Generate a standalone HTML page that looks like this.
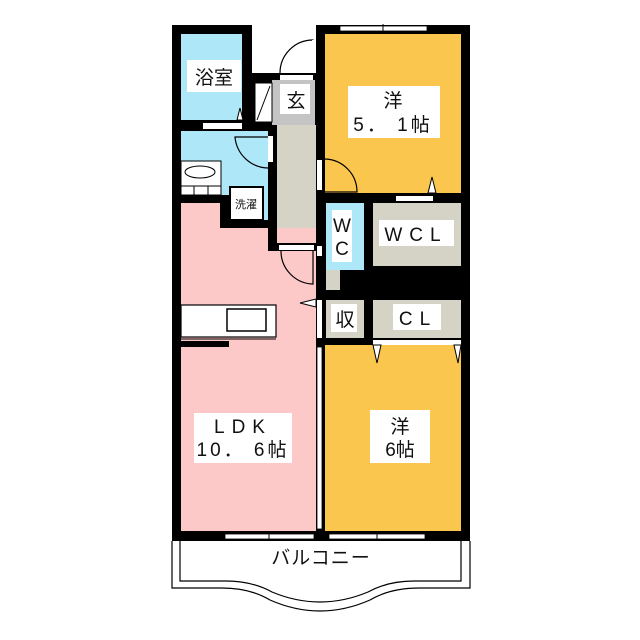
<!DOCTYPE html>
<html><head><meta charset="utf-8"><style>
html,body{margin:0;padding:0;background:#fff;width:640px;height:640px;overflow:hidden}
svg{display:block}
text{font-family:"Liberation Sans","Noto Sans CJK JP",sans-serif;fill:#111}
</style></head><body>
<svg width="640" height="640" viewBox="0 0 640 640" xmlns="http://www.w3.org/2000/svg">
<!-- black base walls -->
<rect x="172" y="25" width="80" height="516" fill="#000"/>
<rect x="252" y="73" width="70" height="180" fill="#000"/>
<rect x="316" y="25" width="154" height="516" fill="#000"/>
<rect x="172" y="195" width="150" height="346" fill="#000"/>
<!-- bathroom -->
<rect x="181" y="34" width="61" height="86" fill="#aee8f8"/>
<rect x="187" y="60" width="54" height="32" fill="#fff"/>
<text x="214" y="84" font-size="19" text-anchor="middle">浴室</text>
<rect x="203" y="123" width="39" height="6" fill="#fff"/>
<path d="M237 120 L240 108 L243 120Z" fill="#fff" stroke="#000" stroke-width="1"/>
<!-- genkan -->
<rect x="272" y="80" width="43" height="45" fill="#c4c4c4"/>
<rect x="255" y="83" width="17" height="39" fill="#fff" stroke="#000" stroke-width="1"/>
<line x1="257" y1="120" x2="270" y2="86" stroke="#000" stroke-width="1"/>
<rect x="280" y="84" width="30" height="30" fill="#fff"/>
<text x="296" y="107" font-size="19" text-anchor="middle">玄</text>
<rect x="280" y="75" width="33" height="5" fill="#fff"/>
<path d="M280 73 A33 33 0 0 1 313 40 L313 73" fill="none" stroke="#000" stroke-width="1.2"/>
<rect x="312" y="40" width="2" height="33" fill="#fff"/>
<!-- corridor -->
<rect x="277" y="125" width="39" height="118" fill="#d5d2c6"/>
<rect x="279" y="245" width="35" height="5" fill="#fff"/>
<!-- washroom -->
<rect x="181" y="131" width="87" height="64" fill="#aee8f8"/>
<rect x="220" y="190" width="48" height="30" fill="#aee8f8"/>
<rect x="220" y="195" width="10" height="33" fill="#000"/>
<rect x="220" y="220" width="57" height="8" fill="#000"/>
<rect x="181" y="195" width="40" height="8" fill="#000"/>
<rect x="181" y="161" width="40" height="34" fill="#fff" stroke="#000" stroke-width="1"/>
<ellipse cx="200" cy="172" rx="15" ry="6" fill="#fff" stroke="#000" stroke-width="1"/>
<line x1="181" y1="186" x2="221" y2="186" stroke="#000"/>
<line x1="194" y1="186" x2="194" y2="195" stroke="#000"/>
<line x1="208" y1="186" x2="208" y2="195" stroke="#000"/>
<rect x="230" y="187" width="33" height="33" fill="#fff" stroke="#000" stroke-width="2"/>
<text x="246" y="208" font-size="11" text-anchor="middle">洗濯</text>
<rect x="268" y="136" width="5" height="26" fill="#fff"/>
<path d="M268 168 A34 34 0 0 1 235 137 L268 137" fill="none" stroke="#000" stroke-width="1.2"/>
<!-- LDK -->
<rect x="181" y="203" width="39" height="328" fill="#fcc8c8"/>
<rect x="181" y="228" width="135" height="303" fill="#fcc8c8"/>
<rect x="268" y="228" width="9" height="23" fill="#000"/>
<rect x="268" y="243" width="48" height="8" fill="#000"/>
<rect x="279" y="245" width="35" height="5" fill="#fff"/>
<path d="M281 251 A33 33 0 0 0 313 284 L313 251" fill="none" stroke="#000" stroke-width="1.2"/>
<rect x="181" y="305" width="95" height="32" fill="#fff" stroke="#000" stroke-width="1.2"/>
<rect x="227" y="309" width="39" height="22" fill="#fff" stroke="#000" stroke-width="1.5"/>
<line x1="181" y1="339" x2="276" y2="339" stroke="#000"/>
<rect x="181" y="341" width="48" height="6" fill="#000"/>
<path d="M300 303 L316 299 L316 307Z" fill="#fff" stroke="#000"/>
<rect x="194" y="413" width="98" height="50" fill="#fff"/>
<text x="243" y="433" font-size="19" text-anchor="middle" letter-spacing="7">LDK</text>
<text x="243" y="456" font-size="19" text-anchor="middle" letter-spacing="3">10． 6帖</text>
<!-- room 洋5.1 -->
<rect x="325" y="34" width="136" height="159" fill="#fbc64e"/>
<rect x="340" y="26" width="87" height="5" fill="#fff" stroke="#000" stroke-width="0.8"/>
<line x1="383" y1="24" x2="383" y2="33" stroke="#000"/>
<rect x="348" y="86" width="92" height="52" fill="#fff"/>
<text x="393" y="107" font-size="19" text-anchor="middle">洋</text>
<text x="393" y="131" font-size="19" text-anchor="middle" letter-spacing="3">5． 1帖</text>
<rect x="317" y="160" width="5" height="30" fill="#fff"/>
<path d="M325 159 A33 33 0 0 1 357 192 L325 192" fill="none" stroke="#000" stroke-width="1.2"/>
<rect x="396" y="196" width="37" height="5" fill="#fff"/>
<path d="M428 193 L432 177 L436 193Z" fill="#fff" stroke="#000"/>
<!-- WC / WCL -->
<rect x="326" y="203" width="38" height="67" fill="#aee8f8"/>
<rect x="326" y="270" width="14" height="20" fill="#d5d2c6"/>
<rect x="332" y="210" width="20" height="52" fill="#fff"/>
<text x="342" y="232" font-size="19" text-anchor="middle">W</text>
<text x="342" y="255" font-size="19" text-anchor="middle">C</text>
<rect x="373" y="203" width="88" height="63" fill="#d5d2c6"/>
<rect x="379" y="220" width="75" height="26" fill="#fff"/>
<text x="416" y="241" font-size="19" text-anchor="middle" letter-spacing="7">WCL</text>
<rect x="317" y="246" width="5" height="10" fill="#fff"/>
<!-- 収 / CL -->
<rect x="326" y="300" width="38" height="38" fill="#d5d2c6"/>
<rect x="331" y="304" width="26" height="28" fill="#fff"/>
<text x="345" y="326" font-size="19" text-anchor="middle">収</text>
<rect x="317" y="300" width="5" height="38" fill="#fff"/>
<rect x="373" y="300" width="88" height="38" fill="#d5d2c6"/>
<rect x="393" y="304" width="48" height="26" fill="#fff"/>
<text x="418" y="325" font-size="19" text-anchor="middle" letter-spacing="7">CL</text>
<rect x="373" y="340" width="88" height="5" fill="#fff"/>
<!-- 洋6 -->
<rect x="325" y="345" width="136" height="186" fill="#fbc64e"/>
<path d="M373 345 L377 363 L381 345Z" fill="#fff" stroke="#000"/>
<path d="M454 345 L458 363 L461 345Z" fill="#fff" stroke="#000"/>
<rect x="370" y="410" width="60" height="53" fill="#fff"/>
<text x="400" y="433" font-size="19" text-anchor="middle">洋</text>
<text x="400" y="456" font-size="19" text-anchor="middle">6帖</text>
<rect x="317" y="347" width="5" height="182" fill="#fff" stroke="#000" stroke-width="0.8"/>
<!-- bottom windows -->
<rect x="225" y="534" width="89" height="5" fill="#fff" stroke="#000" stroke-width="0.8"/>
<line x1="269" y1="532" x2="269" y2="541" stroke="#000"/>
<rect x="329" y="534" width="96" height="5" fill="#fff" stroke="#000" stroke-width="0.8"/>
<line x1="377" y1="532" x2="377" y2="541" stroke="#000"/>
<!-- balcony -->
<path d="M172 541 L172 588 L222 588 Q250 588 270 600 Q320 622 370 600 Q390 588 420 588 L470 588 L470 541" fill="none" stroke="#000" stroke-width="1.2"/>
<path d="M180 541 L180 581 L226 581 Q252 581 272 592 Q320 612 368 592 Q388 581 414 581 L461 581 L461 541" fill="none" stroke="#000" stroke-width="1.2"/>
<text x="321" y="564" font-size="19" text-anchor="middle" letter-spacing="1">バルコニー</text>
</svg>
</body></html>
